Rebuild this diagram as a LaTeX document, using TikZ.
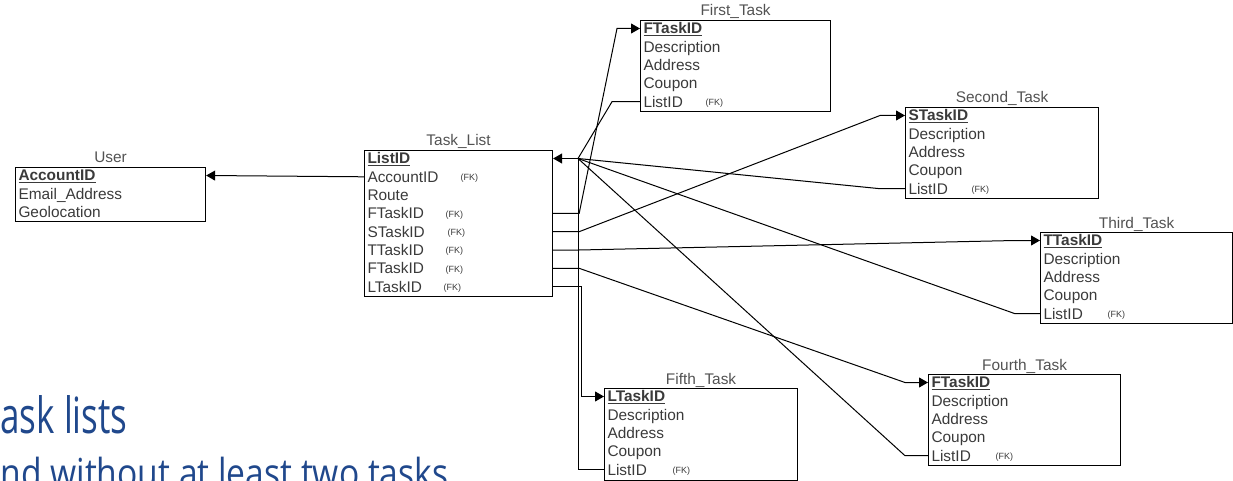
\documentclass[tikz,border=0pt]{standalone}
\usepackage{fontspec}
\setmainfont{Liberation Sans}
\newfontfamily\slidefont{Open Sans}
\usetikzlibrary{arrows.meta}
\definecolor{slideblue}{RGB}{32,72,140}
\definecolor{fieldgray}{RGB}{58,58,58}

\begin{document}
\begin{tikzpicture}[x=1pt, y=-1pt, line width=1pt,
    every node/.style={font=\fontsize{15.4}{18}\selectfont, text=fieldgray},
    tbl/.style={draw=black, line width=1.15pt, anchor=north west, inner sep=0pt},
    fld/.style={anchor=west, inner sep=0pt, text height=10.8pt, text depth=0pt},
    key/.style={fld, font=\bfseries\fontsize{15.4}{18}\selectfont},
    fk/.style={anchor=west, inner sep=0pt, text height=6.5pt, text depth=0pt, font=\fontsize{9}{10}\selectfont},
    ttl/.style={anchor=base, inner sep=0pt, text=black!68},
    link/.style={-{Triangle[length=9pt,width=10pt]}}]
  \useasboundingbox (0,0) rectangle (1233,481);

  % slide text behind the diagram
  \node[anchor=base west, inner sep=0pt, text=slideblue, font=\slidefont\fontsize{50}{50}\selectfont] (slide1) at (0,433) {\scalebox{0.7}[1]{ask lists}};
  \node[anchor=base west, inner sep=0pt, text=slideblue, font=\slidefont\fontsize{40}{40}\selectfont] (slide2) at (0,487) {\scalebox{0.84}[1]{nd without at least two tasks}};

  % User
  \node[tbl, minimum width=190pt, minimum height=54pt] (usr) at (15,167) {};
  \node[ttl] (usr-t) at ([yshift=4pt]usr.north) {User};
  \node[key] (usr-acc) at (18,175.5) {\underline{AccountID}};
  \node[fld] (usr-mail) at (18,193.8) {Email\_Address};
  \node[fld] (usr-geo) at (18,212.1) {Geolocation};

  % Task_List
  \node[tbl, minimum width=188pt, minimum height=146pt] (tl) at (364,150) {};
  \node[ttl] (tl-t) at ([yshift=4pt]tl.north) {Task\_List};
  \node[key] (tl-list) at (367,158.5) {\underline{ListID}};
  \node[fld] (tl-acc) at (367,176.8) {AccountID};
  \node[fld] (tl-route) at (367,195.1) {Route};
  \node[fld] (tl-ft) at (367,213.4) {FTaskID};
  \node[fld] (tl-st) at (367,231.7) {STaskID};
  \node[fld] (tl-tt) at (367,250) {TTaskID};
  \node[fld] (tl-fo) at (367,268.3) {FTaskID};
  \node[fld] (tl-lt) at (367,286.6) {LTaskID};
  \node[fk] (tl-acc-fk) at (460,177.3) {(FK)};
  \node[fk] (tl-ft-fk) at (445,213.9) {(FK)};
  \node[fk] (tl-st-fk) at (447,232.2) {(FK)};
  \node[fk] (tl-tt-fk) at (445,250.5) {(FK)};
  \node[fk] (tl-fo-fk) at (445,268.8) {(FK)};
  \node[fk] (tl-lt-fk) at (443,287.1) {(FK)};

  % First_Task
  \node[tbl, minimum width=190pt, minimum height=91pt] (ft) at (640,20) {};
  \node[ttl] (ft-t) at ([yshift=4pt]ft.north) {First\_Task};
  \node[key] (ft-key) at (643,28.5) {\underline{FTaskID}};
  \node[fld] (ft-desc) at (643,46.8) {Description};
  \node[fld] (ft-addr) at (643,65.1) {Address};
  \node[fld] (ft-coup) at (643,83.4) {Coupon};
  \node[fld] (ft-list) at (643,101.7) {ListID};
  \node[fk] (ft-fk) at (705,102.2) {(FK)};

  % Second_Task
  \node[tbl, minimum width=193pt, minimum height=91pt] (st) at (905,107) {};
  \node[ttl] (st-t) at ([yshift=4pt]st.north) {Second\_Task};
  \node[key] (st-key) at (908,115.5) {\underline{STaskID}};
  \node[fld] (st-desc) at (908,133.8) {Description};
  \node[fld] (st-addr) at (908,152.1) {Address};
  \node[fld] (st-coup) at (908,170.4) {Coupon};
  \node[fld] (st-list) at (908,188.7) {ListID};
  \node[fk] (st-fk) at (971,189.2) {(FK)};

  % Third_Task
  \node[tbl, minimum width=192pt, minimum height=91pt] (tt) at (1040,232) {};
  \node[ttl] (tt-t) at ([yshift=4pt]tt.north) {Third\_Task};
  \node[key] (tt-key) at (1043,240.5) {\underline{TTaskID}};
  \node[fld] (tt-desc) at (1043,258.8) {Description};
  \node[fld] (tt-addr) at (1043,277.1) {Address};
  \node[fld] (tt-coup) at (1043,295.4) {Coupon};
  \node[fld] (tt-list) at (1043,313.7) {ListID};
  \node[fk] (tt-fk) at (1107,314.2) {(FK)};

  % Fourth_Task
  \node[tbl, minimum width=192pt, minimum height=91pt] (fo) at (928,374) {};
  \node[ttl] (fo-t) at ([yshift=4pt]fo.north) {Fourth\_Task};
  \node[key] (fo-key) at (931,382.5) {\underline{FTaskID}};
  \node[fld] (fo-desc) at (931,400.8) {Description};
  \node[fld] (fo-addr) at (931,419.1) {Address};
  \node[fld] (fo-coup) at (931,437.4) {Coupon};
  \node[fld] (fo-list) at (931,455.7) {ListID};
  \node[fk] (fo-fk) at (995,456.2) {(FK)};

  % Fifth_Task
  \node[tbl, minimum width=193pt, minimum height=92pt] (fi) at (604,388) {};
  \node[ttl] (fi-t) at ([yshift=4pt]fi.north) {Fifth\_Task};
  \node[key] (fi-key) at (607,396.5) {\underline{LTaskID}};
  \node[fld] (fi-desc) at (607,414.8) {Description};
  \node[fld] (fi-addr) at (607,433.1) {Address};
  \node[fld] (fi-coup) at (607,451.4) {Coupon};
  \node[fld] (fi-list) at (607,469.7) {ListID};
  \node[fk] (fi-fk) at (672,470.2) {(FK)};

  % links
  \coordinate (hub) at (578,158.5);
  \draw[link] (tl.west |- tl-acc) -- (usr.east |- usr-acc);
  \draw[link] (hub) -- (tl.east |- tl-list);
  \draw[link] (tl.east |- tl-ft) -- ++(26,0) -- (617,28.5) -- (ft.west |- ft-key);
  \draw (ft.west |- ft-list) -- ++(-28,0) -- (hub);
  \draw[link] (tl.east |- tl-st) -- ++(26,0) -- (880,115.5) -- (st.west |- st-key);
  \draw (st.west |- st-list) -- ++(-25,0) -- (hub);
  \draw[link] (tl.east |- tl-tt) -- ++(26,0) -- (1015,240.5) -- (tt.west |- tt-key);
  \draw (tt.west |- tt-list) -- ++(-25,0) -- (hub);
  \draw[link] (tl.east |- tl-fo) -- ++(26,0) -- (905,382.5) -- (fo.west |- fo-key);
  \draw (fo.west |- fo-list) -- ++(-23,0) -- (hub);
  \draw[link] (tl.east |- tl-lt) -- ++(28,0) |- (fi.west |- fi-key);
  \draw (fi.west |- fi-list) -- ++(-26,0) -- (hub);
\end{tikzpicture}
\end{document}
